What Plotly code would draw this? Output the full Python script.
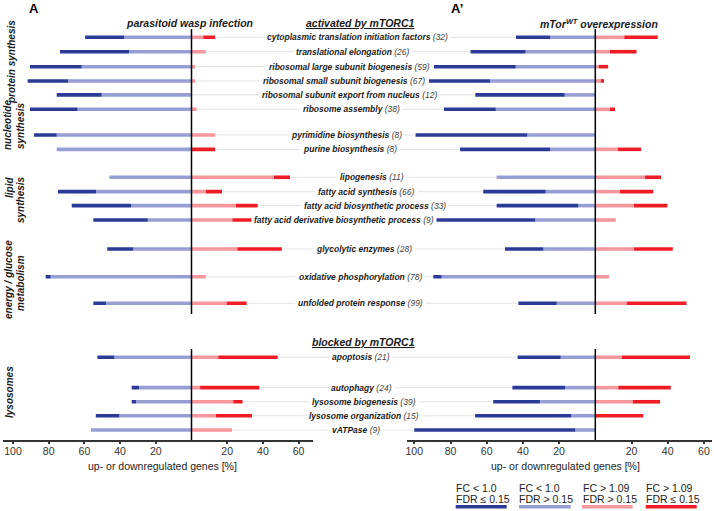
import plotly.graph_objects as go

W, H = 714, 511

# ---------------- data ----------------
categories = [
    "cytoplasmic translation initiation factors", "translational elongation",
    "ribosomal large subunit biogenesis", "ribosomal small subunit biogenesis",
    "ribosomal subunit export from nucleus", "ribosome assembly",
    "pyrimidine biosynthesis", "purine biosynthesis",
    "lipogenesis", "fatty acid synthesis", "fatty acid biosynthetic process",
    "fatty acid derivative biosynthetic process",
    "glycolytic enzymes", "oxidative phosphorylation", "unfolded protein response",
    "apoptosis", "autophagy", "lysosome biogenesis", "lysosome organization", "vATPase",
]
gene_counts = [32, 26, 59, 67, 12, 38, 8, 8, 11, 66, 33, 9, 28, 78, 99, 21, 24, 39, 15, 9]

# panel A: parasitoid wasp infection (% of genes)
wasp_down_sig = [21.8, 38.7, 29.0, 22.6, 25.2, 26.7, 12.7, 0.0, 0.0, 21.3, 33.2, 30.5, 14.6, 2.8, 7.1, 9.5, 4.1, 2.4, 13.2, 0.0]
wasp_down_ns = [37.8, 35.0, 61.5, 69.2, 50.3, 63.8, 75.5, 75.5, 46.0, 53.5, 33.9, 24.5, 32.6, 78.9, 47.9, 43.2, 29.4, 31.1, 40.4, 56.3]
wasp_up_ns = [6.6, 8.0, 2.0, 2.0, 0.0, 2.9, 13.2, 0.0, 46.2, 8.1, 24.9, 22.9, 25.7, 8.0, 19.7, 15.0, 4.8, 23.4, 13.7, 22.7]
wasp_up_sig = [6.6, 0.0, 0.0, 0.0, 0.0, 0.0, 0.0, 13.2, 9.0, 9.0, 12.2, 10.9, 24.9, 0.0, 11.2, 33.3, 33.2, 5.2, 20.2, 0.0]

# panel A': mTor(WT) overexpression (% of genes)
mtor_down_sig = [18.8, 30.4, 45.1, 33.7, 49.4, 28.6, 61.7, 49.7, 0.0, 34.5, 45.1, 54.9, 21.2, 4.6, 21.2, 23.8, 29.1, 25.8, 53.0, 88.9]
mtor_down_ns = [25.0, 38.5, 44.0, 58.2, 16.9, 55.0, 37.6, 25.0, 54.5, 27.4, 9.4, 33.3, 28.7, 84.9, 21.3, 19.1, 16.7, 30.6, 13.4, 11.1]
mtor_up_ns = [16.0, 8.1, 2.0, 3.0, 0.0, 8.1, 0.0, 12.4, 27.5, 13.6, 21.4, 11.3, 21.4, 7.6, 17.3, 14.6, 12.7, 20.7, 0.0, 0.0]
mtor_up_sig = [18.5, 14.7, 5.1, 1.8, 0.0, 2.8, 0.0, 12.9, 8.8, 18.4, 18.4, 0.0, 21.4, 0.0, 33.1, 37.7, 29.0, 15.1, 26.5, 0.0]

legend_lines = [("FC &lt; 1.0", "FDR ≤ 0.15"), ("FC &lt; 1.0", "FDR &gt; 0.15"),
                ("FC &gt; 1.09", "FDR &gt; 0.15"), ("FC &gt; 1.09", "FDR ≤ 0.15")]
tick_vals = [-100, -80, -60, -40, -20, 20, 40, 60]
tick_text = ["100", "80", "60", "40", "20", "20", "40", "60"]

# ---------------- layout helpers ----------------
row_slot = [0, 1, 2.04, 3.03, 4.0, 5.0, 6.78, 7.78, 9.72, 10.72, 11.69, 12.69,
            14.7, 16.63, 18.47, 22.22, 24.33, 25.31, 26.28, 27.27]
label_cx = [357, 353, 349, 344, 349.5, 351.5, 346.5, 350, 372, 367, 374.5, 343.5,
            363.5, 360.7, 360.5, 361, 361.5, 364, 364, 355.5]

C_DS = "#2b3a97"
C_DN = "#959fd3"
C_UN = "#f6969d"
C_US = "#ee1c25"
FONT = "Liberation Sans, Arial, sans-serif"

ROW_PX0, ROW_STEP = 37.3, 14.4
AXIS_PX = 440.0

def px_x(p):
    return p / W

def px_y(p):
    return 1 - p / H

def slot_of(py):
    return (py - ROW_PX0) / ROW_STEP

# panel geometry (pixels)
L_left, L_zero, L_right, L_scale = 3.3, 191.5, 313.0, 1.785
R_left, R_zero, R_right, R_scale = 406.7, 595.3, 712.0, 1.81

fig = go.Figure()

def add_panel(axis, dsig, dns, uns, usig):
    fig.add_trace(go.Bar(y=row_slot, x=[-v for v in dns], base=0, orientation="h",
                         width=0.25, marker=dict(color=C_DN, line_width=0),
                         xaxis=axis, yaxis="y", showlegend=False, hoverinfo="skip"))
    fig.add_trace(go.Bar(y=row_slot, x=[-v for v in dsig], base=[-v for v in dns],
                         orientation="h", width=0.25, marker=dict(color=C_DS, line_width=0),
                         xaxis=axis, yaxis="y", showlegend=False, hoverinfo="skip"))
    fig.add_trace(go.Bar(y=row_slot, x=uns, base=0, orientation="h",
                         width=0.25, marker=dict(color=C_UN, line_width=0),
                         xaxis=axis, yaxis="y", showlegend=False, hoverinfo="skip"))
    fig.add_trace(go.Bar(y=row_slot, x=usig, base=uns, orientation="h",
                         width=0.25, marker=dict(color=C_US, line_width=0),
                         xaxis=axis, yaxis="y", showlegend=False, hoverinfo="skip"))

add_panel("x", wasp_down_sig, wasp_down_ns, wasp_up_ns, wasp_up_sig)
add_panel("x2", mtor_down_sig, mtor_down_ns, mtor_up_ns, mtor_up_sig)

shapes = []
annotations = []

# connector lines
for s in row_slot:
    shapes.append(dict(type="line", xref="paper", yref="y", x0=px_x(L_zero), x1=px_x(R_zero),
                       y0=s, y1=s, line=dict(color="#e4e4e4", width=1), layer="below"))

# zero lines
for xr in ("x", "x2"):
    for (a, b) in [(29, 314), (349, AXIS_PX)]:
        shapes.append(dict(type="line", xref=xr, yref="y", x0=0, x1=0,
                           y0=slot_of(a), y1=slot_of(b), line=dict(color="black", width=1.5)))

# row labels
for name, n, s, cx in zip(categories, gene_counts, row_slot, label_cx):
    annotations.append(dict(
        x=px_x(cx), xref="paper", y=s, yref="y", xanchor="center", yanchor="middle",
        text=f"<i><b>{name}</b> <span style='color:#444'>({n})</span></i>",
        showarrow=False, bgcolor="white", borderpad=2,
        font=dict(family=FONT, size=8.5, color="#1a1a1a")))

def txt(x, y, text, size=10.5, angle=0, color="#1a1a1a", xanchor="center", yanchor="middle"):
    annotations.append(dict(x=px_x(x), y=px_y(y), xref="paper", yref="paper",
                            xanchor=xanchor, yanchor=yanchor, text=text, showarrow=False,
                            textangle=angle, borderpad=0,
                            font=dict(family=FONT, size=size, color=color)))

# panel letters
txt(34, 0, "<b>A</b>", size=13, color="black", yanchor="top")
txt(457, 0, "<b>A’</b>", size=13, color="black", yanchor="top")

# titles
txt(189, 23, "<b><i>parasitoid wasp infection</i></b>")
txt(360, 23, "<b><i><u>activated by mTORC1</u></i></b>")
txt(599, 23, "<b><i>mTor<sup>WT</sup> overexpression</i></b>")
txt(363, 342, "<b><i><u>blocked by mTORC1</u></i></b>")

# group labels (rotated)
txt(11, 62, "<b><i>protein synthesis</i></b>", size=10, angle=-90)
txt(8, 125, "<b><i>nucleotide</i></b>", size=10, angle=-90)
txt(20, 126, "<b><i>synthesis</i></b>", size=10, angle=-90)
txt(9, 188, "<b><i>lipid</i></b>", size=10, angle=-90)
txt(20, 200, "<b><i>synthesis</i></b>", size=10, angle=-90)
txt(8, 280, "<b><i>energy / glucose</i></b>", size=10, angle=-90)
txt(20, 283, "<b><i>metabolism</i></b>", size=10, angle=-90)
txt(9, 392, "<b><i>lysosomes</i></b>", size=10, angle=-90)

# axis titles
txt(162, 466, "up- or downregulated genes [%]", color="#222")
txt(565, 466, "up- or downregulated genes [%]", color="#222")

# legend
leg_x = [455, 518.3, 581.7, 645]
leg_bar = [(455.7, 506.7), (519, 570.7), (582, 632.7), (645.7, 696.7)]
for (l1, l2), lx, (b0, b1), c in zip(legend_lines, leg_x, leg_bar, [C_DS, C_DN, C_UN, C_US]):
    txt(lx, 488, l1, color="#222", xanchor="left")
    txt(lx, 499, l2, color="#222", xanchor="left")
    shapes.append(dict(type="rect", xref="paper", yref="paper", x0=px_x(b0), x1=px_x(b1),
                       y0=px_y(508.5), y1=px_y(505), fillcolor=c, line=dict(width=0)))

axis_common = dict(showgrid=False, zeroline=False, showline=True, linecolor="#333",
                   linewidth=2, ticks="outside", ticklen=2, tickwidth=1.5, tickcolor="#333",
                   ticklabelstandoff=-2,
                   tickvals=tick_vals, ticktext=tick_text, anchor="y", fixedrange=True,
                   tickfont=dict(family=FONT, size=10.5, color="#333"))

fig.update_layout(
    width=W, height=H, margin=dict(l=0, r=0, t=0, b=0),
    paper_bgcolor="white", plot_bgcolor="rgba(0,0,0,0)",
    barmode="overlay", showlegend=False,
    xaxis=dict(domain=[px_x(L_left), px_x(L_right)],
               range=[-(L_zero - L_left) / L_scale, (L_right - L_zero) / L_scale], **axis_common),
    xaxis2=dict(domain=[px_x(R_left), px_x(R_right)],
                range=[-(R_zero - R_left) / R_scale, (R_right - R_zero) / R_scale], **axis_common),
    yaxis=dict(domain=[px_y(AXIS_PX), 1], range=[slot_of(AXIS_PX), slot_of(0)],
               visible=False, fixedrange=True),
    shapes=shapes, annotations=annotations,
)

fig.write_html("out.html")
